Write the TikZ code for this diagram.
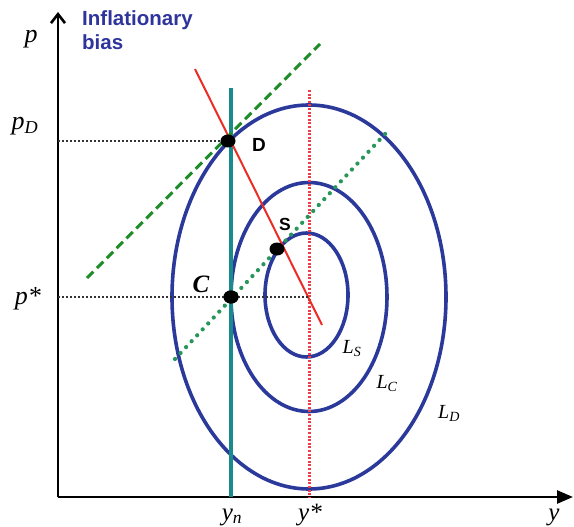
\documentclass[tikz,border=0pt]{standalone}
\usepackage{fontspec}
\setsansfont{Liberation Sans}
\newfontfamily\axisfont{Liberation Serif}
\usepackage{tikz}
\usetikzlibrary{
  arrows.meta,
  positioning,
  calc,
  shapes.geometric
}

\definecolor{ellblue}{RGB}{43,57,155}
\definecolor{biasblue}{RGB}{46,52,156}
\definecolor{natteal}{RGB}{24,140,140}
\definecolor{rulered}{RGB}{236,44,38}
\definecolor{dotred}{RGB}{240,60,70}
\definecolor{dashgreen}{RGB}{30,140,40}
\definecolor{dotgreen}{RGB}{40,150,90}

\begin{document}
\begin{tikzpicture}[
  x=1pt,
  y=-1pt,
  axis/.style={
    line width=2.6pt,
    black
  },
  indiff/.style={
    line width=3.6pt,
    ellblue
  },
  natural/.style={
    line width=3.6pt,
    natteal
  },
  rule/.style={
    line width=2pt,
    rulered
  },
  target/.style={
    line width=3pt,
    dotred,
    dash pattern=on 2pt off 1.6pt
  },
  discr/.style={
    line width=3pt,
    dashgreen,
    dash pattern=on 9pt off 5pt
  },
  commit/.style={
    line width=4.2pt,
    dotgreen,
    line cap=round,
    dash pattern=on 0.1pt off 8pt
  },
  guide/.style={
    line width=2pt,
    black!80,
    dash pattern=on 1.8pt off 2.2pt
  },
  eqpt/.style={
    ellipse,
    fill=black,
    inner sep=0pt,
    minimum width=15pt,
    minimum height=13pt
  },
  plabel/.style={
    font=\axisfont\itshape\fontsize{26}{30}\selectfont,
    anchor=base,
    inner sep=0pt
  },
  llabel/.style={
    font=\axisfont\itshape\fontsize{20}{24}\selectfont,
    anchor=base,
    inner sep=0pt
  },
  ylabel/.style={
    font=\axisfont\itshape\fontsize{25}{29}\selectfont,
    anchor=base,
    inner sep=0pt
  },
  ptlabel/.style={
    font=\sffamily\bfseries\fontsize{19}{22}\selectfont,
    anchor=base,
    inner sep=0pt
  }
]
\useasboundingbox (0,0) rectangle (574,527);

% --- axes ---
\coordinate (O) at (58,497);
\coordinate (ytop) at (58,12);
\coordinate (xend) at (573,497);
\draw[axis,-{Straight Barb[length=9pt,width=14pt,line width=2.6pt]}] (O) -- (ytop);
\draw[axis,-{Stealth[length=16pt,width=13pt,inset=0pt]}] (O) -- (xend);

% --- loss ellipses round the bliss point ---
\coordinate (ctr) at (309,297);
\coordinate (ctrS) at (306.5,295);
\draw[indiff] (ctr) ellipse [x radius=137pt, y radius=192pt];
\draw[indiff] (ctr) ellipse [x radius=78pt, y radius=114.5pt];
\draw[indiff] (ctrS) ellipse [x radius=41.5pt, y radius=62pt];

% --- reference lines ---
\coordinate (ystarTop) at (309,90);
\coordinate (ystarBot) at (309,497);
\draw[target] (ystarTop) -- (ystarBot);

\coordinate (ynTop) at (231,88);
\coordinate (ynBot) at (231,497);
\draw[natural] (ynTop) -- (ynBot);

\coordinate (ruleA) at (195,69);
\coordinate (ruleB) at (322,325);
\draw[rule] (ruleA) -- (ruleB);

\coordinate (discrA) at (87,278);
\coordinate (discrB) at (320,44);
\draw[discr] (discrA) -- (discrB);

\coordinate (commitA) at (175,359);
\coordinate (commitB) at (386,133);
\draw[commit] (commitA) -- (commitB);

% --- equilibria ---
\node[eqpt] (D) at (228,141) {};
\node[eqpt] (S) at (277,249) {};
\node[eqpt] (C) at (231,297) {};

\coordinate (pDax) at (58,141);
\coordinate (pSax) at (58,297);
\draw[guide] (pDax) -- (D.west);
\draw[guide] (pSax) -- (ctr);
\node[eqpt] at (C) {};

% --- labels ---
\node[font=\sffamily\bfseries\fontsize{20.5}{24}\selectfont,
  text=biasblue,align=left,anchor=north west,inner sep=0pt] (bias)
  at (82,10) {Inflationary\\bias};

\node[plabel] (pLab) at (31,43) {p};
\node[plabel] (pDLab) at (25,130) {p\textsubscript{D}};
\node[plabel] (pSLab) at (28,304) {p*};

\node[font=\axisfont\bfseries\itshape\fontsize{25}{29}\selectfont,anchor=base,inner sep=0pt]
  (CLab) at (201,292) {C};
\node[ptlabel] (DLab) at (259,152) {D};
\node[ptlabel,font=\sffamily\bfseries\fontsize{17.5}{21}\selectfont] (SLab) at (285,230) {S};

\node[llabel] (LSLab) at (352,353) {L\textsubscript{S}};
\node[llabel] (LCLab) at (387,388) {L\textsubscript{C}};
\node[llabel] (LDLab) at (449,418) {L\textsubscript{D}};

\node[ylabel] (ynLab) at (232,520) {y\textsubscript{n}};
\node[ylabel] (ystarLab) at (310,520) {y*};
\node[ylabel] (yLab) at (554,520) {y};

\end{tikzpicture}
\end{document}
